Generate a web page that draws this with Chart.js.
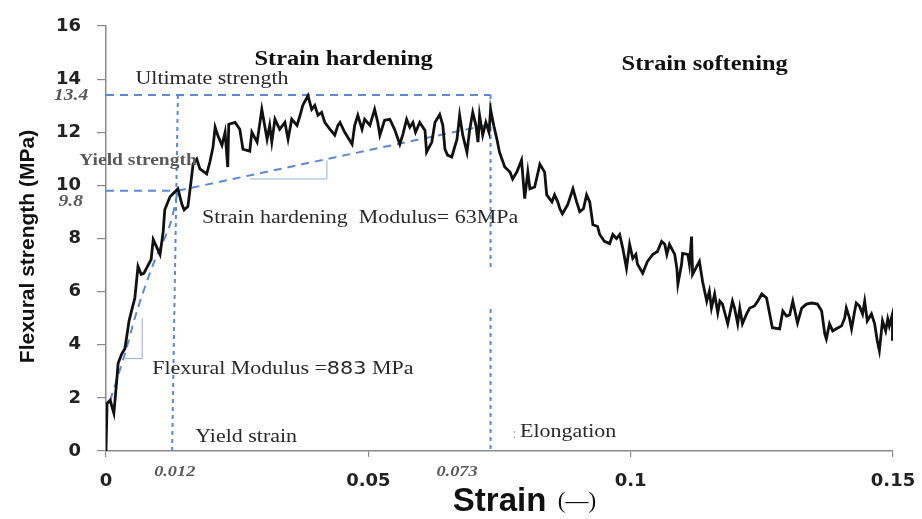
<!DOCTYPE html>
<html>
<head>
<meta charset="utf-8">
<script src="https://cdn.jsdelivr.net/npm/chart.js@4.4.1/dist/chart.umd.min.js"></script>
<style>
html,body{margin:0;padding:0;background:#fff;}
#wrap{width:922px;height:519px;}
</style>
</head>
<body>
<div id="wrap"><canvas id="c" width="922" height="519"></canvas></div>
<script>
// ---- data ----
const strain = [0,0.0002,0.0008,0.0015,0.0021,0.0023,0.0030,0.0036,0.0044,0.0050,
0.0055,0.0061,0.0067,0.0072,0.0086,0.0090,0.0103,0.0109,0.0112,0.0122,
0.0137,0.0145,0.0149,0.0156,0.0162,0.0166,0.0173,0.0179,0.0192,0.0198,
0.0204,0.0208,0.0213,0.0221,0.0227,0.0232,0.0234,0.0246,0.0255,0.0261,
0.0274,0.0278,0.0288,0.0297,0.0303,0.0307,0.0312,0.0316,0.0322,0.0331,
0.0341,0.0347,0.0354,0.0364,0.0370,0.0375,0.0385,0.0392,0.0398,0.0404,
0.0411,0.0417,0.0427,0.0436,0.0442,0.0446,0.0455,0.0469,0.0474,0.0480,
0.0488,0.0493,0.0503,0.0512,0.0518,0.0522,0.0531,0.0541,0.0550,0.0560,
0.0566,0.0573,0.0579,0.0585,0.0590,0.0598,0.0608,0.0611,0.0621,0.0627,
0.0636,0.0642,0.0646,0.0651,0.0659,0.0669,0.0674,0.0680,0.0688,0.0693,
0.0699,0.0705,0.0709,0.0712,0.0718,0.0724,0.0730,0.0733,0.0739,0.0745,
0.0750,0.0760,0.0770,0.0775,0.0783,0.0792,0.0798,0.0804,0.0808,0.0817,
0.0827,0.0836,0.0840,0.0850,0.0855,0.0861,0.0865,0.0870,0.0880,0.0890,
0.0897,0.0903,0.0910,0.0916,0.0922,0.0928,0.0937,0.0941,0.0950,0.0960,
0.0966,0.0973,0.0979,0.0985,0.0992,0.0998,0.1004,0.1010,0.1013,0.1023,
0.1032,0.1042,0.1051,0.1059,0.1065,0.1069,0.1074,0.1078,0.1084,0.1088,
0.1090,0.1097,0.1099,0.1109,0.1112,0.1114,0.1116,0.1118,0.1131,0.1137,
0.1145,0.1150,0.1154,0.1160,0.1166,0.1170,0.1175,0.1185,0.1194,0.1198,
0.1204,0.1208,0.1213,0.1221,0.1227,0.1236,0.1242,0.1250,0.1259,0.1265,
0.1270,0.1284,0.1290,0.1297,0.1303,0.1309,0.1318,0.1326,0.1335,0.1345,
0.1356,0.1364,0.1370,0.1373,0.1379,0.1385,0.1392,0.1402,0.1408,0.1411,
0.1417,0.1421,0.1427,0.1430,0.1436,0.1442,0.1446,0.1451,0.1459,0.1465,
0.1470,0.1474,0.1480,0.1486,0.1490,0.1493,0.1499,0.1499];

const stress = [0,1.79,1.91,1.42,2.77,3.29,3.66,3.85,4.90,5.38,
5.76,6.95,6.65,6.69,7.21,7.96,7.40,8.26,9.08,9.57,
9.87,9.27,9.08,9.20,10.13,10.80,10.99,10.62,10.43,10.88,
11.44,12.19,11.89,11.51,12.00,10.69,12.30,12.37,12.11,11.36,
11.29,12.00,11.63,12.86,12.19,11.74,12.26,11.63,12.49,12.11,
12.37,11.74,12.49,12.26,12.64,13.01,13.38,12.86,13.01,12.64,
12.75,12.37,12.11,11.89,12.26,12.37,12.00,11.55,12.26,12.64,
12.11,12.49,12.26,12.86,12.37,11.89,12.45,12.49,12.11,11.55,
11.93,12.49,12.19,12.37,12.00,12.37,12.07,11.25,11.63,12.37,
12.67,12.26,11.36,11.14,11.07,11.74,12.64,11.89,11.25,12.07,
12.75,12.26,11.63,12.64,11.89,12.37,12.00,12.86,12.26,11.74,
11.25,10.69,10.50,10.24,10.50,10.95,9.50,10.50,9.87,9.94,
10.80,10.50,9.64,9.38,9.64,9.38,9.12,8.93,9.27,9.87,
9.38,9.01,9.12,9.64,9.38,8.52,8.45,8.15,7.89,7.81,
8.15,8.00,8.15,7.63,6.88,7.78,7.25,7.40,7.03,6.69,
7.14,7.40,7.51,7.89,7.78,7.40,7.78,7.63,7.40,6.88,
6.28,7.03,7.44,7.40,7.03,7.51,8.07,6.65,7.14,6.39,
5.64,6.02,5.38,5.91,5.20,5.64,5.53,4.79,5.64,5.38,
4.79,5.38,4.79,5.16,5.38,5.46,5.64,5.91,5.76,5.16,
4.64,4.60,5.27,5.08,5.12,5.64,4.82,5.38,5.53,5.57,
5.53,5.27,4.41,4.22,4.79,4.52,4.60,4.71,5.01,5.38,
5.01,4.60,5.27,5.57,5.46,5.16,5.64,4.90,5.16,4.79,
4.15,3.78,4.90,4.52,4.97,4.71,5.16,4.15];

// key values
const yieldStrain = 0.0137, yieldStrength = 9.8;
const elongation = 0.0733, ultimateStrength = 13.4;
const xTicks = [0, 0.05, 0.1, 0.15];
const xTickLabels = ['0', '0.05', '0.1', '0.15'];
const yTicks = [0, 2, 4, 6, 8, 10, 12, 14, 16];

// guide lines (data units)
const ultimateLineX = [0, elongation];
const ultimateLineY = [ultimateStrength, ultimateStrength];
const yieldVertX = [yieldStrain, 0.0126];
const yieldVertY = [ultimateStrength, 0];
const elongVertX = [elongation, elongation, null, elongation, elongation];
const elongVertY = [ultimateStrength, 6.88, null, 5.35, 0];
const yieldHorzX = [0, yieldStrain];
const yieldHorzY = [yieldStrength, yieldStrength];
const flexModX = [0.0008, 0.0036, 0.0059, 0.0090, 0.0122, yieldStrain];
const flexModY = [1.90, 3.66, 5.27, 7.03, 8.52, yieldStrength];
const hardModX = [yieldStrain, elongation];
const hardModY = [yieldStrength, 12.3];
const flexTriX = [0.0036, 0.0069, 0.0069];
const flexTriY = [3.48, 3.48, 5.01];
const hardTriX = [0.0274, 0.0421, 0.0421];
const hardTriY = [10.24, 10.24, 10.95];

function pts(xs, ys){ return xs.map((x,i)=> x===null ? {x:NaN,y:NaN} : {x:x, y:ys[i]}); }

const BLUE = '#5a8ad0';
const SERIF = '"Liberation Serif", "Times New Roman", serif';
const STRETCH = 1.22;

function drawText(ctx, parts, px, py, align, stretch){
  ctx.save();
  ctx.textBaseline = 'middle';
  ctx.textAlign = 'left';
  let w = 0;
  parts.forEach(p=>{ ctx.font = p.font; p.w = ctx.measureText(p.t).width; w += p.w; });
  w *= stretch;
  let x0 = align==='center' ? px - w/2 : (align==='right' ? px - w : px);
  ctx.translate(x0, py);
  ctx.scale(stretch, 1);
  let cx = 0;
  parts.forEach(p=>{ ctx.font = p.font; ctx.fillStyle = p.color; ctx.fillText(p.t, cx, 0); cx += p.w; });
  ctx.restore();
}

const labelPlugin = {
  id: 'labels',
  afterDraw(chart){
    const ctx = chart.ctx, xs = chart.scales.x, ys = chart.scales.y;
    const X = v => xs.getPixelForValue(v), Y = v => ys.getPixelForValue(v);
    const dark = '#2a2a2a', gray = '#5a5a5a';
    drawText(ctx, [{t:'Strain hardening', font:'bold 20px '+SERIF, color:'#111'}], X(0.0453), Y(14.73), 'center', STRETCH);
    drawText(ctx, [{t:'Strain softening', font:'bold 20px '+SERIF, color:'#111'}], X(0.1141), Y(14.54), 'center', STRETCH);
    drawText(ctx, [{t:'Ultimate strength', font:'18px '+SERIF, color:dark}], X(0.0202), Y(13.98), 'center', STRETCH);
    drawText(ctx, [{t:'13.4', font:'italic bold 16px '+SERIF, color:gray}], X(-0.0034), Y(13.38), 'right', STRETCH);
    drawText(ctx, [{t:'Yield strength', font:'bold 16px '+SERIF, color:gray}], X(0.0061), Y(10.92), 'center', STRETCH);
    drawText(ctx, [{t:'9.8', font:'italic bold 16px '+SERIF, color:gray}], X(-0.0044), Y(9.38), 'right', STRETCH);
    drawText(ctx, [{t:'Strain hardening  Modulus= 63MPa', font:'18px '+SERIF, color:dark}], X(0.0183), Y(8.75), 'left', STRETCH);
    drawText(ctx, [
      {t:'Flexural Modulus =', font:'18px '+SERIF, color:dark},
      {t:'883', font:'17px "DejaVu Sans"', color:dark},
      {t:' MPa', font:'18px '+SERIF, color:dark}], X(0.0088), Y(3.07), 'left', STRETCH);
    drawText(ctx, [{t:'Yield strain', font:'18px '+SERIF, color:dark}], X(0.0170), Y(0.52), 'left', STRETCH);
    drawText(ctx, [{t:':', font:'14px '+SERIF, color:'#aaa'}], X(0.0775), Y(0.62), 'left', 1);
    drawText(ctx, [{t:'Elongation', font:'18px '+SERIF, color:dark}], X(0.0789), Y(0.71), 'left', STRETCH);
    drawText(ctx, [{t:'0.012', font:'italic bold 15px '+SERIF, color:gray}], X(0.0131), Y(-0.79), 'center', STRETCH);
    drawText(ctx, [{t:'0.073', font:'italic bold 15px '+SERIF, color:gray}], X(0.0669), Y(-0.79), 'center', STRETCH);
    // axis titles
    const ca = chart.chartArea;
    const midX = (ca.left + ca.right)/2, midY = (ca.top + ca.bottom)/2;
    drawText(ctx, [
      {t:'Strain', font:'bold 33px "Liberation Sans", Arial, sans-serif', color:'#111'},
      {t:'  (—)', font:'23px '+SERIF, color:'#111'}], midX + 25, 502, 'center', 1);
    ctx.save();
    ctx.translate(28, midY + 8);
    ctx.rotate(-Math.PI/2);
    drawText(ctx, [{t:'Flexural strength (MPa)', font:'bold 21px "Liberation Sans", Arial, sans-serif', color:'#111'}], 0, 0, 'center', 1);
    ctx.restore();
  }
};

function guide(data, dash, width, color, tension){
  return { data: data, showLine: true, borderColor: color || BLUE, borderWidth: width || 2,
    borderDash: dash || [], pointRadius: 0, fill: false, tension: tension || 0, spanGaps: false, order: 2 };
}

new Chart(document.getElementById('c'), {
  type: 'scatter',
  data: {
    datasets: [
      { label: 'Flexural strength', data: pts(strain, stress), showLine: true, borderColor: '#111',
        borderWidth: 2.8, pointRadius: 0, tension: 0, fill: false, order: 1 },
      guide(pts(ultimateLineX, ultimateLineY), [8,6]),
      guide(pts(yieldVertX, yieldVertY), [4,4]),
      guide(pts(elongVertX, elongVertY), [4,4]),
      guide(pts(yieldHorzX, yieldHorzY), [8,6]),
      guide(pts(flexModX, flexModY), [8,6], 2, BLUE, 0.3),
      guide(pts(hardModX, hardModY), [8,6]),
      guide(pts(flexTriX, flexTriY), [], 1, '#8fb0dc'),
      guide(pts(hardTriX, hardTriY), [], 1, '#8fb0dc')
    ]
  },
  options: {
    responsive: false,
    animation: false,
    devicePixelRatio: 1,
    layout: { autoPadding: false, padding: { left: 0, top: 26, right: 29, bottom: 0 } },
    plugins: { legend: { display: false }, tooltip: { enabled: false } },
    scales: {
      x: {
        type: 'linear', min: 0, max: 0.15,
        afterFit(s){ s.height = 68; s.paddingLeft = 0; s.paddingRight = 0; },
        afterBuildTicks(s){ s.ticks = xTicks.map(v=>({value:v})); },
        ticks: { color: '#222', padding: 14, maxRotation: 0,
          callback: (v, i) => xTickLabels[i],
          font: { family: '"DejaVu Sans"', weight: 'bold', size: 18 } },
        grid: { drawOnChartArea: false, drawTicks: true, tickLength: 6, color: '#8a8a8a', lineWidth: 1.2 },
        border: { color: '#8a8a8a', width: 1.5 }
      },
      y: {
        min: 0, max: 16,
        afterFit(s){ s.width = 106; s.paddingTop = 0; s.paddingBottom = 0; },
        afterBuildTicks(s){ s.ticks = yTicks.map(v=>({value:v})); },
        ticks: { color: '#222', padding: 16,
          font: { family: '"DejaVu Sans"', weight: 'bold', size: 18 } },
        grid: { drawOnChartArea: false, drawTicks: true, tickLength: 9, color: '#8a8a8a', lineWidth: 1.2 },
        border: { color: '#8a8a8a', width: 1.5 }
      }
    }
  },
  plugins: [labelPlugin]
});
</script>
</body>
</html>
